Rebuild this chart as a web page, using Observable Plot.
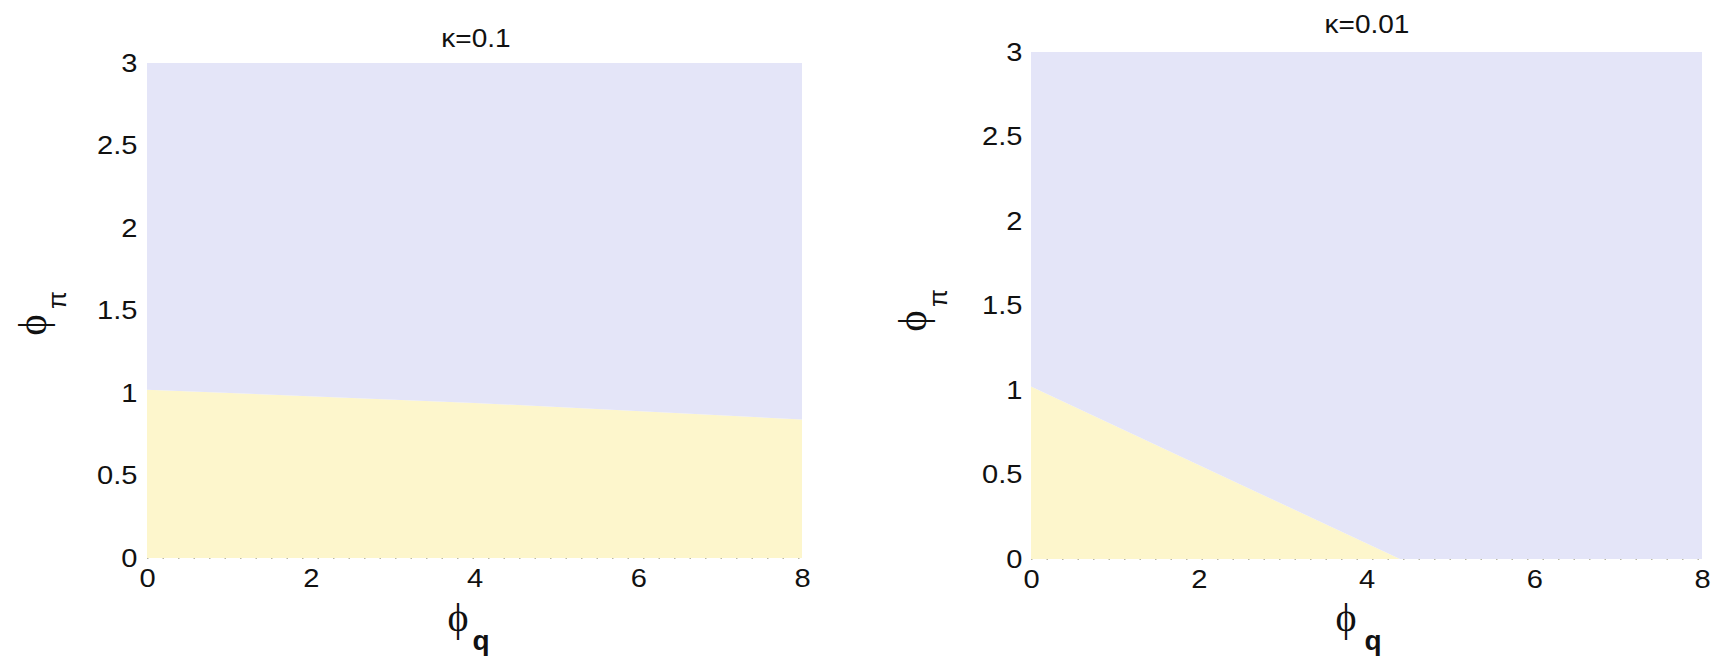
<!DOCTYPE html>
<html>
<head>
<meta charset="utf-8">
<script src="https://cdn.jsdelivr.net/npm/d3@7"></script>
<script src="https://cdn.jsdelivr.net/npm/@observablehq/plot@0.6"></script>
<style>
  html, body { margin: 0; padding: 0; background: #fff; }
  #wrap { position: relative; width: 1714px; height: 658px; overflow: hidden; }
  .panel { position: absolute; top: 0; }
  .panel svg { font-family: "Liberation Sans", Arial, sans-serif; }
</style>
</head>
<body>
<div id="wrap">
  <div class="panel" id="left" style="left:0px"></div>
  <div class="panel" id="right" style="left:860px"></div>
</div>
<script>
// Axis ticks shared by both panels
const qTicks = [0, 2, 4, 6, 8];
const piTicks = [0, 0.5, 1, 1.5, 2, 2.5, 3];

// Determinacy boundary φπ(φq) for each κ
const kappaLabels = ["κ=0.1", "κ=0.01"];
const qLeft = [0, 4, 8];
const boundLeft = [1.02, 0.94, 0.84];
const qRight = [0, 4.4, 8];
const boundRight = [1.02, 0, 0];

const yellow = "#fdf6cc";
const blue = "#e4e5f8";
const STRETCH = 1.12;

function stretchText(el) {
  const t = el.getAttribute("transform") || "";
  el.setAttribute("transform", t + ` scale(${STRETCH},1)`);
}

function panel({q, bound, title, width, marginLeft, marginRight, marginTop, marginBottom, tickPadY, titleX, titleY, yLab, xLab}) {
  const rows = q.map((v, i) => ({q: v, b: bound[i]}));
  const svg = Plot.plot({
    width, height: 658,
    marginLeft, marginRight, marginTop, marginBottom,
    style: {fontSize: "26px", color: "#111", background: "transparent"},
    x: {domain: [0, 8], ticks: qTicks, tickSize: 0, tickPadding: 10, tickFormat: d => String(d), label: null},
    y: {domain: [0, 3], ticks: piTicks, tickSize: 0, tickPadding: tickPadY, tickFormat: d => String(d), label: null},
    marks: [
      Plot.areaY(rows, {x: "q", y1: 0, y2: "b", fill: yellow}),
      Plot.areaY(rows, {x: "q", y1: "b", y2: 3, fill: blue}),
      Plot.ruleY([0], {stroke: "#b9b8a6", strokeWidth: 1.2, strokeDasharray: "1.5,14"})
    ]
  });
  svg.querySelectorAll('g[aria-label$="tick label"] text').forEach(stretchText);

  const s = d3.select(svg);
  // panel title
  s.append("text")
    .attr("transform", `translate(${titleX},${titleY}) scale(${STRETCH},1)`)
    .attr("text-anchor", "middle")
    .attr("font-size", 25)
    .attr("fill", "#111")
    .text(title);

  // y-axis label φπ, read bottom to top
  s.append("text")
    .attr("transform", `translate(${yLab.phi[0]},${yLab.phi[1]}) rotate(-90)`)
    .attr("text-anchor", "middle").attr("dominant-baseline", "central")
    .attr("font-family", "'Liberation Serif', serif").attr("font-size", 40).attr("fill", "#111")
    .text("ϕ");
  s.append("text")
    .attr("transform", `translate(${yLab.pi[0]},${yLab.pi[1]}) rotate(-90)`)
    .attr("text-anchor", "middle").attr("dominant-baseline", "central")
    .attr("font-size", 26).attr("fill", "#111")
    .text("π");

  // x-axis label φq
  s.append("text")
    .attr("transform", `translate(${xLab.phi[0]},${xLab.phi[1]})`)
    .attr("text-anchor", "middle").attr("dominant-baseline", "central")
    .attr("font-family", "'Liberation Serif', serif").attr("font-size", 40).attr("fill", "#111")
    .text("ϕ");
  s.append("text")
    .attr("transform", `translate(${xLab.q[0]},${xLab.q[1]})`)
    .attr("text-anchor", "middle")
    .attr("font-size", 28).attr("font-weight", "bold").attr("fill", "#111")
    .text("q");
  return svg;
}

document.getElementById("left").appendChild(panel({
  q: qLeft, bound: boundLeft, title: kappaLabels[0],
  width: 830, marginLeft: 147, marginRight: 28, marginTop: 63, marginBottom: 100, tickPadY: 10,
  titleX: 476, titleY: 47,
  yLab: {phi: [32, 325], pi: [57, 300]},
  xLab: {phi: [458, 617], q: [481, 650]}
}));

document.getElementById("right").appendChild(panel({
  q: qRight, bound: boundRight, title: kappaLabels[1],
  width: 854, marginLeft: 171, marginRight: 12, marginTop: 52, marginBottom: 99, tickPadY: 9,
  titleX: 1367 - 860, titleY: 33,
  yLab: {phi: [912 - 860, 321], pi: [938 - 860, 298]},
  xLab: {phi: [1346 - 860, 617], q: [1373 - 860, 650]}
}));
</script>
</body>
</html>
